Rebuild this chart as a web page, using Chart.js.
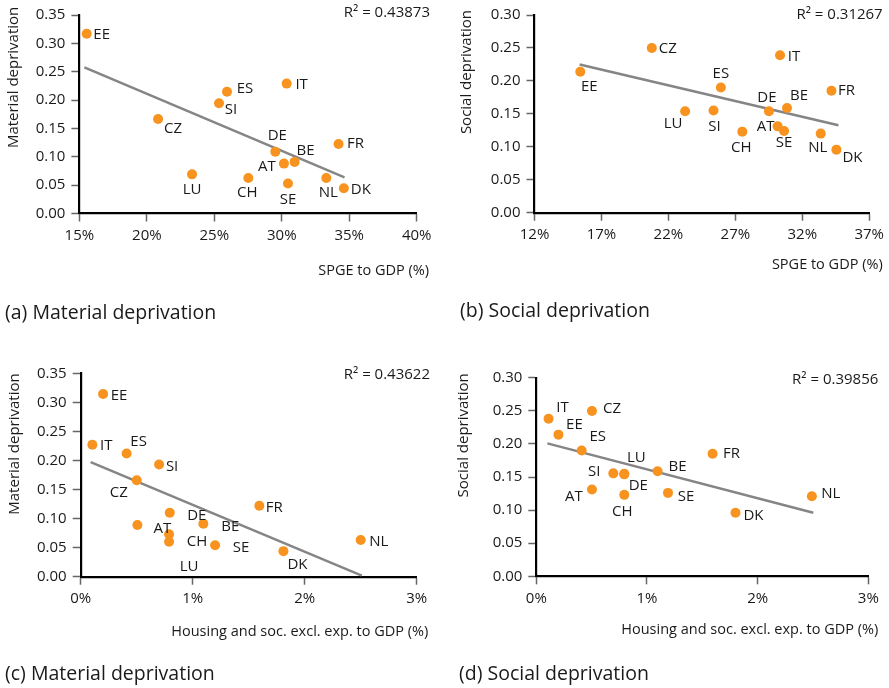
<!DOCTYPE html>
<html><head><meta charset="utf-8">
<script src="https://cdn.jsdelivr.net/npm/chart.js@4.4.1/dist/chart.umd.min.js"></script>
<style>
html,body{margin:0;padding:0;background:#fff;}
#wrap{position:relative;width:889px;height:688px;overflow:hidden;background:#fff;}
canvas.panel{position:absolute;}
.cap{position:absolute;font-family:'Open Sans',sans-serif;font-size:19.5px;line-height:24px;color:#1a1a1a;white-space:nowrap;}
</style></head><body>
<div id="wrap">
  <canvas id="ca" class="panel" width="445" height="340" style="left:0;top:0"></canvas>
  <canvas id="cb" class="panel" width="444" height="340" style="left:445px;top:0"></canvas>
  <canvas id="cc" class="panel" width="445" height="348" style="left:0;top:340px"></canvas>
  <canvas id="cd" class="panel" width="444" height="348" style="left:445px;top:340px"></canvas>
  <div class="cap" style="left:5px;top:300px">(a) Material deprivation</div>
  <div class="cap" style="left:460px;top:298px">(b) Social deprivation</div>
  <div class="cap" style="left:5px;top:661px">(c) Material deprivation</div>
  <div class="cap" style="left:459px;top:661px">(d) Social deprivation</div>
</div>
<script>
// ---------- DATA ----------
const countries = ['AT','BE','CH','CZ','DE','DK','EE','ES','FR','IT','LU','NL','SE','SI'];

// (a) SPGE to GDP (%) vs material deprivation
const spgeA     = [30.16, 30.95, 27.52, 20.83, 29.52, 34.60, 15.54, 25.94, 34.21, 30.36, 23.35, 33.30, 30.46, 25.35];
const materialA = [0.088, 0.091, 0.0625, 0.1667, 0.109, 0.0446, 0.317, 0.2147, 0.1227, 0.229, 0.069, 0.0625, 0.053, 0.1944];
const trendAX = [15.37, 34.65];
const trendAY = [0.2575, 0.0637];

// (b) SPGE to GDP (%) vs social deprivation
const spgeB   = [30.16, 30.86, 27.52, 20.76, 29.51, 34.55, 15.42, 25.92, 34.18, 30.34, 23.25, 33.38, 30.64, 25.37];
const socialB = [0.131, 0.159, 0.123, 0.250, 0.154, 0.0957, 0.214, 0.190, 0.185, 0.239, 0.154, 0.120, 0.124, 0.155];
const trendBX = [15.37, 34.70];
const trendBY = [0.225, 0.1326];

// (c) Housing and soc. excl. exp. to GDP (%) vs material deprivation
const housingC  = [0.506, 1.095, 0.789, 0.50, 0.795, 1.81, 0.20, 0.41, 1.595, 0.104, 0.789, 2.50, 1.20, 0.70];
const materialC = [0.089, 0.091, 0.060, 0.166, 0.110, 0.044, 0.3144, 0.212, 0.122, 0.227, 0.073, 0.063, 0.054, 0.193];
const trendCX = [0.089, 2.51];
const trendCY = [0.197, 0.0017];

// (d) Housing and soc. excl. exp. to GDP (%) vs social deprivation
const housingD = [0.503, 1.096, 0.795, 0.503, 0.795, 1.80, 0.20, 0.41, 1.593, 0.111, 0.795, 2.49, 1.19, 0.696];
const socialD  = [0.131, 0.1586, 0.123, 0.2497, 0.154, 0.096, 0.214, 0.190, 0.185, 0.238, 0.155, 0.121, 0.126, 0.1555];
const trendDX = [0.10, 2.503];
const trendDY = [0.2008, 0.0961];

const r2Labels = ['R\u00B2 = 0.43873', 'R\u00B2 = 0.31267', 'R\u00B2 = 0.43622', 'R\u00B2 = 0.39856'];
const xTitles = ['SPGE to GDP (%)', 'SPGE to GDP (%)', 'Housing and soc. excl. exp. to GDP (%)', 'Housing and soc. excl. exp. to GDP (%)'];
const yTitles = ['Material deprivation', 'Social deprivation', 'Material deprivation', 'Social deprivation'];

// ---------- LAYOUT (label offsets in px relative to point) ----------
const offA = {EE:[15,1],ES:[18,-3],SI:[12,6],IT:[15,1],CZ:[15,10],DE:[2,-16],FR:[17,0],BE:[11,-11],AT:[-17,3],LU:[0,15],CH:[-1,15],SE:[0,16],NL:[2,15],DK:[17,2]};
const offB = {EE:[9,15],CZ:[16,1],IT:[14,2],ES:[0,-14],FR:[15,0],DE:[-2,-13],BE:[12,-12],LU:[-12,13],SI:[1,16],AT:[-12,0],SE:[0,12],CH:[-1,16],NL:[-3,14],DK:[16,8]};
const offC = {EE:[16,2],IT:[14,1],ES:[12,-12],SI:[13,2],CZ:[-18,13],FR:[15,2],DE:[27,3],BE:[27,3],AT:[25,4],CH:[28,0],LU:[20,32],SE:[26,2],DK:[14,14],NL:[18,2]};
const offD = {IT:[14,-11],CZ:[20,-2],EE:[16,-10],ES:[16,-14],FR:[19,0],BE:[20,-5],SI:[-19,-2],LU:[12,-16],DE:[14,11],AT:[-18,7],CH:[-2,17],SE:[18,4],DK:[18,3],NL:[19,-2]};

const FONT = "'Open Sans', sans-serif";
const TXT = '#1a1a1a';
const ORANGE = '#f7931e';
const GREY = '#858585';

function pct(v){ return Math.round(v) + '%'; }

function makeChart(id, p) {
  const canvas = document.getElementById(id);
  const W = canvas.width, H = canvas.height;
  const XH = 40;
  const pts = countries.map((c, i) => ({x: p.xs[i], y: p.ys[i]}));
  const trend = p.tx.map((x, i) => ({x: x, y: p.ty[i]}));
  const annot = {
    id: 'annot_' + id,
    afterDatasetsDraw(chart) {
      const ctx = chart.ctx;
      const meta = chart.getDatasetMeta(1);
      ctx.save();
      ctx.fillStyle = TXT;
      ctx.font = '15px ' + FONT;
      ctx.textAlign = 'center';
      ctx.textBaseline = 'middle';
      meta.data.forEach((el, i) => {
        const o = p.off[countries[i]];
        ctx.fillText(countries[i], el.x + o[0], el.y + o[1]);
      });
      ctx.textAlign = 'right';
      ctx.fillText(p.r2, p.r2Pos[0], p.r2Pos[1]);
      ctx.font = '14.5px ' + FONT;
      ctx.fillText(p.xTitle, p.xtPos[0], p.xtPos[1]);
      ctx.translate(p.ytPos[0], p.ytPos[1]);
      ctx.rotate(-Math.PI / 2);
      ctx.font = '15px ' + FONT;
      ctx.textAlign = 'right';
      ctx.fillText(p.yTitle, 0, 0);
      ctx.restore();
    }
  };
  return new Chart(canvas, {
    type: 'scatter',
    data: {
      datasets: [
        {type: 'line', data: trend, borderColor: GREY, borderWidth: 2.5, pointRadius: 0, fill: false, order: 2},
        {data: pts, backgroundColor: ORANGE, borderWidth: 0, pointRadius: 5, pointHoverRadius: 5, order: 1}
      ]
    },
    options: {
      responsive: false,
      animation: false,
      devicePixelRatio: 1,
      layout: {padding: {left: 0, top: p.rect.t, right: W - p.rect.r, bottom: H - p.rect.b - XH}},
      plugins: {legend: {display: false}, tooltip: {enabled: false}},
      scales: {
        x: {
          type: 'linear', min: p.xMin, max: p.xMax,
          ticks: {stepSize: p.xStep, callback: pct, font: {family: FONT, size: 15}, color: TXT, padding: 5, maxRotation: 0, autoSkip: false},
          grid: {display: true, drawOnChartArea: false, drawTicks: true, tickLength: 8, tickColor: '#666', tickWidth: 1.5},
          border: {display: true, color: '#000', width: 2.2},
          afterFit: s => { s.height = XH; }
        },
        y: {
          type: 'linear', min: 0, max: p.yMax,
          ticks: {stepSize: 0.05, callback: v => v.toFixed(2), font: {family: FONT, size: 15}, color: TXT, padding: 6, autoSkip: false},
          grid: {display: true, drawOnChartArea: false, drawTicks: true, tickLength: 8, tickColor: '#666', tickWidth: 1.5},
          border: {display: true, color: '#000', width: 2.2},
          afterFit: s => { s.width = p.rect.l; }
        }
      }
    },
    plugins: [annot]
  });
}

makeChart('ca', {xs: spgeA, ys: materialA, tx: trendAX, ty: trendAY, off: offA,
  xMin: 15, xMax: 40, xStep: 5, yMax: 0.35,
  rect: {l: 79.4, t: 12.7, r: 416.7, b: 213.5},
  r2: r2Labels[0], r2Pos: [430, 13], xTitle: xTitles[0], xtPos: [429, 270.5], yTitle: yTitles[0], ytPos: [13.3, 6.7]});
makeChart('cb', {xs: spgeB, ys: socialB, tx: trendBX, ty: trendBY, off: offB,
  xMin: 12, xMax: 37, xStep: 5, yMax: 0.30,
  rect: {l: 89.5, t: 13.3, r: 424.3, b: 212.7},
  r2: r2Labels[1], r2Pos: [437.7, 15], xTitle: xTitles[1], xtPos: [437.7, 265], yTitle: yTitles[1], ytPos: [21.7, 10]});
makeChart('cc', {xs: housingC, ys: materialC, tx: trendCX, ty: trendCY, off: offC,
  xMin: 0, xMax: 3, xStep: 1, yMax: 0.35,
  rect: {l: 80.7, t: 33.3, r: 416.7, b: 236.7},
  r2: r2Labels[2], r2Pos: [430, 34.3], xTitle: xTitles[2], xtPos: [428.3, 291.7], yTitle: yTitles[2], ytPos: [15, 33.3]});
makeChart('cd', {xs: housingD, ys: socialD, tx: trendDX, ty: trendDY, off: offD,
  xMin: 0, xMax: 3, xStep: 1, yMax: 0.30,
  rect: {l: 91.3, t: 37.7, r: 423.3, b: 236.3},
  r2: r2Labels[3], r2Pos: [433.3, 40], xTitle: xTitles[3], xtPos: [433.3, 290], yTitle: yTitles[3], ytPos: [18.3, 33.3]});
</script>
</body></html>
